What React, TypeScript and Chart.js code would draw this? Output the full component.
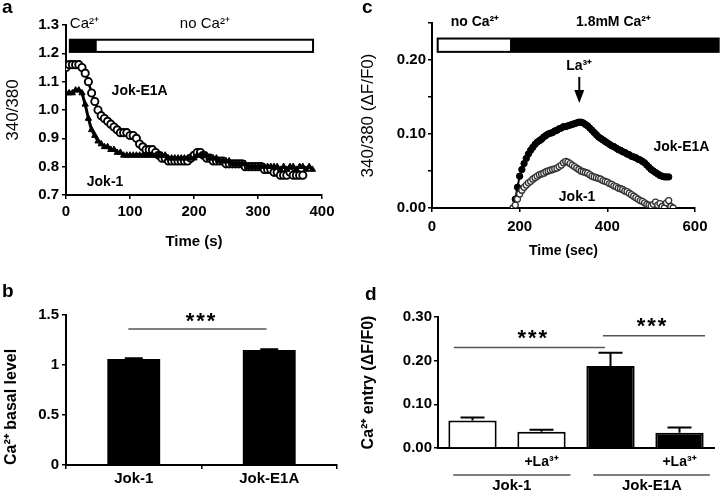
import React, { useEffect, useRef } from "react";
import { Chart, registerables } from "chart.js";

Chart.register(...registerables);

const FAMILY = '"Liberation Sans", Arial, Helvetica, sans-serif';

// ---------------- Panel a: basal Ca2+ traces ----------------
const aTime = [
  0, 5, 10, 15, 20, 25, 30, 35, 40, 45, 50, 55, 60, 65, 70, 75, 80, 85, 90, 95,
  100, 105, 110, 115, 120, 125, 130, 135, 140, 145, 150, 155, 160, 165, 170, 175, 180, 185, 190, 195,
  200, 205, 210, 215, 220, 225, 230, 235, 240, 245, 250, 255, 260, 265, 270, 275, 280, 285, 290, 295,
  300, 305, 310, 315, 320, 325, 330, 335, 340, 345, 350, 355, 360, 365, 370, 375, 380, 385,
];
const aJokE1A = [
  1.15, 1.16, 1.16, 1.16, 1.16, 1.15, 1.13, 1.10, 1.06, 1.03, 1.00, 0.98, 0.97, 0.96, 0.95, 0.94, 0.93, 0.92, 0.92, 0.92,
  0.91, 0.91, 0.90, 0.88, 0.87, 0.86, 0.86, 0.86, 0.85, 0.84, 0.83, 0.83, 0.82, 0.82, 0.82, 0.82, 0.82, 0.82, 0.82, 0.83,
  0.84, 0.85, 0.85, 0.84, 0.83, 0.83, 0.82, 0.82, 0.82, 0.82, 0.81, 0.81, 0.81, 0.81, 0.81, 0.81, 0.80, 0.80, 0.80, 0.80,
  0.80, 0.80, 0.79, 0.79, 0.79, 0.78, 0.78, 0.77, 0.77, 0.77, 0.78, 0.77, 0.77, 0.77, 0.77, null, null, null,
];
const aJok1 = [
  1.06, 1.06, 1.06, 1.07, 1.07, 1.06, 1.02, 0.97, 0.93, 0.91, 0.89, 0.88, 0.87, 0.87, 0.86, 0.86, 0.85, 0.85, 0.84, 0.84,
  0.84, 0.84, 0.84, 0.84, 0.84, 0.84, 0.84, 0.84, 0.84, 0.84, 0.84, 0.84, 0.83, 0.83, 0.83, 0.83, 0.83, 0.83, 0.83, 0.83,
  0.83, 0.84, 0.84, 0.84, 0.84, 0.83, 0.83, 0.83, 0.82, 0.82, 0.82, 0.82, 0.81, 0.81, 0.81, 0.81, 0.81, 0.80, 0.80, 0.80,
  0.80, 0.80, 0.80, 0.80, 0.80, 0.80, 0.80, 0.79, 0.80, 0.79, 0.80, 0.80, 0.79, 0.80, 0.80, 0.79, 0.80, 0.79,
];
const aCaPeriod = [6, 48];
const aNoCaPeriod = [48, 386];

// ---------------- Panel b: basal level bars ----------------
const bCategories = ["Jok-1", "Jok-E1A"];
const bBasal = [1.06, 1.15];
const bSem = [0.008, 0.008];

// ---------------- Panel c: Ca2+ entry traces ----------------
const cTime = [
  185, 190, 195, 200, 205, 210, 215, 220, 225, 230, 235, 240, 245, 250, 255, 260, 265, 270, 275, 280,
  285, 290, 295, 300, 305, 310, 315, 320, 325, 330, 335, 340, 345, 350, 355, 360, 365, 370, 375, 380,
  385, 390, 395, 400, 405, 410, 415, 420, 425, 430, 435, 440, 445, 450, 455, 460, 465, 470, 475, 480,
  485, 490, 495, 500, 505, 510, 515, 520, 525, 530, 535, 540, 545, 550,
];
const cJokE1A = [
  0.000, 0.012, 0.028, 0.043, 0.052, 0.060, 0.067, 0.073, 0.078, 0.082, 0.086, 0.089, 0.091, 0.093, 0.096, 0.098, 0.100, 0.101, 0.102, 0.104,
  0.105, 0.107, 0.108, 0.110, 0.110, 0.111, 0.112, 0.113, 0.114, 0.115, 0.116, 0.116, 0.115, 0.113, 0.111, 0.108, 0.105, 0.102, 0.099, 0.096,
  0.094, 0.092, 0.090, 0.088, 0.086, 0.084, 0.083, 0.081, 0.079, 0.078, 0.076, 0.075, 0.073, 0.072, 0.070, 0.069, 0.068, 0.066, 0.065, 0.063,
  0.061, 0.058, 0.055, 0.052, 0.050, 0.048, 0.046, 0.044, 0.043, 0.042, 0.042, 0.042, null, null,
];
const cJok1 = [
  0.000, 0.004, 0.012, 0.019, 0.024, 0.028, 0.031, 0.034, 0.036, 0.039, 0.041, 0.043, 0.045, 0.046, 0.047, 0.049, 0.050, 0.051, 0.052, 0.053,
  0.054, 0.056, 0.058, 0.061, 0.063, 0.062, 0.060, 0.058, 0.056, 0.054, 0.052, 0.050, 0.049, 0.048, 0.047, 0.045, 0.043, 0.042, 0.041, 0.040,
  0.039, 0.037, 0.036, 0.035, 0.033, 0.032, 0.030, 0.029, 0.027, 0.026, 0.025, 0.023, 0.022, 0.020, 0.018, 0.016, 0.014, 0.012, 0.010, 0.009,
  0.007, 0.005, 0.004, 0.003, 0.005, 0.008, 0.004, 0.006, 0.002, 0.000, 0.007, 0.010, 0.002, 0.000,
];
const cNoCaPeriod = [13, 178];
const cCaPeriod = [178, 654];
const cLaTime = 336;

// ---------------- Panel d: Ca2+ entry bars ----------------
const dCategories = ["", "+La³⁺", "", "+La³⁺"];
const dEntry = [0.063, 0.037, 0.188, 0.035];
const dSem = [0.007, 0.005, 0.030, 0.012];
const dGroups = ["Jok-1", "Jok-E1A"];

// ---------------- helpers ----------------
const font = (size: number, weight: string = "bold") => ({ family: FAMILY, size, weight, lineHeight: 1.2 });

function fixW(w: number) {
  return (s: any) => {
    s.width = w;
    s.paddingTop = 0; s.paddingBottom = 0; s.paddingLeft = 0; s.paddingRight = 0;
  };
}
function fixH(h: number) {
  return (s: any) => {
    s.height = h;
    s.paddingTop = 0; s.paddingBottom = 0; s.paddingLeft = 0; s.paddingRight = 0;
  };
}
function axisLook(tickLen: number, drawTicks = true) {
  return {
    grid: { display: true, drawOnChartArea: false, drawTicks, tickLength: tickLen, color: "#000", lineWidth: 1.5 },
    border: { display: true, color: "#000", width: 2 },
  };
}
function txt(ctx: CanvasRenderingContext2D, s: string, x: number, y: number, size: number, weight = "bold", align: CanvasTextAlign = "center") {
  ctx.save();
  ctx.font = `${weight} ${size}px ${FAMILY}`;
  ctx.fillStyle = "#000";
  ctx.textAlign = align;
  ctx.textBaseline = "middle";
  ctx.fillText(s, x, y);
  ctx.restore();
}
function stars(ctx: CanvasRenderingContext2D, x: number, y: number) {
  ctx.save();
  ctx.font = `bold 22px ${FAMILY}`;
  (ctx as any).letterSpacing = "2px";
  ctx.fillStyle = "#000";
  ctx.textAlign = "center";
  ctx.textBaseline = "alphabetic";
  ctx.fillText("***", x, y + 13);
  ctx.restore();
}
function hline(ctx: CanvasRenderingContext2D, x0: number, x1: number, y: number, w = 1.5, color = "#444") {
  ctx.save();
  ctx.strokeStyle = color;
  ctx.lineWidth = w;
  ctx.beginPath();
  ctx.moveTo(x0, y);
  ctx.lineTo(x1, y);
  ctx.stroke();
  ctx.restore();
}
function errBar(ctx: CanvasRenderingContext2D, x: number, yTop: number, yErr: number, cap: number) {
  ctx.save();
  ctx.strokeStyle = "#000";
  ctx.lineWidth = 2;
  ctx.beginPath();
  ctx.moveTo(x, yTop);
  ctx.lineTo(x, yErr);
  ctx.moveTo(x - cap / 2, yErr);
  ctx.lineTo(x + cap / 2, yErr);
  ctx.stroke();
  ctx.restore();
}

const baseOpts = {
  responsive: false,
  animation: false as const,
  devicePixelRatio: 1,
  plugins: { legend: { display: false }, tooltip: { enabled: false } },
};

// ---------------- chart builders ----------------
function makeA(canvas: HTMLCanvasElement) {
  const anno = {
    id: "annoA",
    afterDraw(chart: any) {
      const { ctx } = chart;
      const x = chart.scales.x, y = chart.scales.y;
      txt(ctx, "a", 2, 8, 19, "bold", "left");
      const top = y.getPixelForValue(1.248), bot = y.getPixelForValue(1.205);
      const xs = x.getPixelForValue(aCaPeriod[0]);
      const xm = x.getPixelForValue(aCaPeriod[1]);
      const xe = x.getPixelForValue(aNoCaPeriod[1]);
      ctx.save();
      ctx.fillStyle = "#000";
      ctx.fillRect(xs, top, xm - xs, bot - top);
      ctx.strokeStyle = "#000";
      ctx.lineWidth = 2;
      ctx.strokeRect(xs, top, xe - xs, bot - top);
      ctx.restore();
      txt(ctx, "Ca²⁺", xs, y.getPixelForValue(1.303), 15, "normal", "left");
      txt(ctx, "no Ca²⁺", x.getPixelForValue(217), y.getPixelForValue(1.303), 15, "normal", "center");
      txt(ctx, "Jok-E1A", x.getPixelForValue(115), y.getPixelForValue(1.067), 14, "bold", "center");
      txt(ctx, "Jok-1", x.getPixelForValue(61), y.getPixelForValue(0.745), 14, "bold", "center");
    },
  };
  return new Chart(canvas, {
    type: "scatter",
    data: {
      datasets: [
        {
          label: "Jok-1",
          data: aTime.map((t, i) => ({ x: t, y: aJok1[i] })),
          showLine: true,
          borderColor: "#000",
          borderWidth: 3,
          pointStyle: "triangle",
          pointRadius: 3.6,
          pointBackgroundColor: "#000",
          pointBorderColor: "#000",
          pointBorderWidth: 1,
        },
        {
          label: "Jok-E1A",
          data: aTime.map((t, i) => ({ x: t, y: aJokE1A[i] })),
          showLine: true,
          borderColor: "#000",
          borderWidth: 2.5,
          pointStyle: "circle",
          pointRadius: 3.6,
          pointBackgroundColor: "#fff",
          pointBorderColor: "#000",
          pointBorderWidth: 1.9,
        },
      ],
    },
    options: {
      ...baseOpts,
      layout: { padding: { top: 25, right: 36, bottom: 0, left: 0 } },
      scales: {
        x: {
          type: "linear",
          min: 0,
          max: 400,
          ticks: { stepSize: 100, font: font(15), color: "#000", padding: 4, maxRotation: 0 },
          ...axisLook(4),
          title: { display: true, text: "Time (s)", font: font(15), color: "#000", padding: { top: 0, bottom: 1 } },
          afterFit: fixH(57),
        },
        y: {
          type: "linear",
          min: 0.7,
          max: 1.3,
          ticks: { stepSize: 0.1, font: font(15), color: "#000", padding: 3, callback: (v: any) => Number(v).toFixed(1) },
          ...axisLook(4),
          title: { display: true, text: "340/380", font: font(17, "normal"), color: "#000", padding: { top: 3, bottom: 0 } },
          afterFit: fixW(66),
        },
      },
    } as any,
    plugins: [anno],
  });
}

function makeB(canvas: HTMLCanvasElement) {
  const anno = {
    id: "annoB",
    afterDraw(chart: any) {
      const { ctx } = chart;
      const x = chart.scales.x, y = chart.scales.y;
      txt(ctx, "b", 2, 30, 19, "bold", "left");
      bBasal.forEach((v, i) => {
        errBar(ctx, x.getPixelForValue(i), y.getPixelForValue(v), y.getPixelForValue(v + bSem[i]), 18);
      });
      hline(ctx, x.getPixelForValue(-0.04), x.getPixelForValue(0.98), y.getPixelForValue(1.36), 1.5, "#555");
      stars(ctx, x.getPixelForValue(0.5), y.getPixelForValue(1.5));
    },
  };
  return new Chart(canvas, {
    type: "bar",
    data: {
      labels: bCategories,
      datasets: [
        {
          data: bBasal,
          backgroundColor: "#000",
          borderColor: "#000",
          borderWidth: 0,
          barPercentage: 0.39,
          categoryPercentage: 1,
        },
      ],
    },
    options: {
      ...baseOpts,
      layout: { padding: { top: 53, right: 21, bottom: 0, left: 0 } },
      scales: {
        x: {
          type: "category",
          ticks: { font: font(15), color: "#000", padding: 1 },
          grid: { display: true, drawOnChartArea: false, drawTicks: true, tickLength: 4, color: "#000", lineWidth: 1.5, offset: true },
          border: { display: true, color: "#000", width: 2 },
          afterFit: fixH(25),
        },
        y: {
          type: "linear",
          min: 0,
          max: 1.5,
          ticks: { stepSize: 0.5, font: font(15), color: "#000", padding: 3, callback: (v: any) => String(Number(v)) },
          ...axisLook(4),
          title: { display: true, text: "Ca²⁺ basal level", align: "start", font: font(16), color: "#000", padding: { top: 2, bottom: 0 } },
          afterFit: fixW(66),
        },
      },
    } as any,
    plugins: [anno],
  });
}

function makeC(canvas: HTMLCanvasElement) {
  const anno = {
    id: "annoC",
    afterDraw(chart: any) {
      const { ctx } = chart;
      const x = chart.scales.x, y = chart.scales.y;
      txt(ctx, "c", 4, 8, 19, "bold", "left");
      const top = y.getPixelForValue(0.229), bot = y.getPixelForValue(0.211);
      const xs = x.getPixelForValue(cNoCaPeriod[0]);
      const xm = x.getPixelForValue(cCaPeriod[0]);
      const xe = x.getPixelForValue(cCaPeriod[1]);
      ctx.save();
      ctx.fillStyle = "#000";
      ctx.fillRect(xm, top, xe - xm, bot - top);
      ctx.strokeStyle = "#000";
      ctx.lineWidth = 2;
      ctx.strokeRect(xs, top, xe - xs, bot - top);
      ctx.restore();
      const yl = y.getPixelForValue(0.251);
      txt(ctx, "no Ca²⁺", x.getPixelForValue(98), yl, 14, "bold", "center");
      txt(ctx, "1.8mM Ca²⁺", x.getPixelForValue(414), yl, 14, "bold", "center");
      const px = x.getPixelForValue(cLaTime);
      const ty = y.getPixelForValue(0.192);
      txt(ctx, "La³⁺", px, ty, 14, "bold", "center");
      ctx.save();
      ctx.strokeStyle = "#000";
      ctx.fillStyle = "#000";
      ctx.lineWidth = 2;
      ctx.beginPath();
      ctx.moveTo(px, ty + 11);
      ctx.lineTo(px, ty + 28);
      ctx.stroke();
      ctx.beginPath();
      ctx.moveTo(px - 5, ty + 24);
      ctx.lineTo(px + 5, ty + 24);
      ctx.lineTo(px, ty + 37);
      ctx.closePath();
      ctx.fill();
      ctx.restore();
      txt(ctx, "Jok-E1A", x.getPixelForValue(569), y.getPixelForValue(0.082), 14, "bold", "center");
      txt(ctx, "Jok-1", x.getPixelForValue(331), y.getPixelForValue(0.015), 14, "bold", "center");
    },
  };
  return new Chart(canvas, {
    type: "scatter",
    data: {
      datasets: [
        {
          label: "Jok-1",
          data: cTime.map((t, i) => ({ x: t, y: cJok1[i] })),
          showLine: true,
          borderColor: "#555",
          borderWidth: 1,
          pointStyle: "circle",
          pointRadius: 3,
          pointBackgroundColor: "#fff",
          pointBorderColor: "#333",
          pointBorderWidth: 1.3,
        },
        {
          label: "Jok-E1A",
          data: cTime.map((t, i) => ({ x: t, y: cJokE1A[i] })),
          showLine: true,
          borderColor: "#000",
          borderWidth: 2,
          pointStyle: "circle",
          pointRadius: 3.2,
          pointBackgroundColor: "#000",
          pointBorderColor: "#000",
          pointBorderWidth: 1,
        },
      ],
    },
    options: {
      ...baseOpts,
      layout: { padding: { top: 23, right: 28, bottom: 0, left: 0 } },
      scales: {
        x: {
          type: "linear",
          min: 0,
          max: 600,
          ticks: { stepSize: 200, font: font(15), color: "#000", padding: 6, maxRotation: 0 },
          ...axisLook(4),
          title: { display: true, text: "Time (sec)", font: font(14), color: "#000", padding: { top: 0, bottom: 2 } },
          afterFit: fixH(54),
        },
        y: {
          type: "linear",
          min: 0,
          max: 0.25,
          ticks: {
            stepSize: 0.05,
            font: font(15),
            color: "#000",
            padding: 2,
            callback: (v: any) => (Math.round(Number(v) * 100) % 10 === 0 ? Number(v).toFixed(2) : ""),
          },
          ...axisLook(4),
          title: { display: true, text: "340/380 (ΔF/F0)", font: font(17, "normal"), color: "#000", padding: { top: 0, bottom: 0 } },
          afterFit: fixW(74),
        },
      },
    } as any,
    plugins: [anno],
  });
}

function makeD(canvas: HTMLCanvasElement) {
  const anno = {
    id: "annoD",
    afterDraw(chart: any) {
      const { ctx } = chart;
      const x = chart.scales.x, y = chart.scales.y;
      txt(ctx, "d", 7, 33, 19, "bold", "left");
      dEntry.forEach((v, i) => {
        errBar(ctx, x.getPixelForValue(i), y.getPixelForValue(v), y.getPixelForValue(v + dSem[i]), 24);
      });
      hline(ctx, x.getPixelForValue(-0.27), x.getPixelForValue(1.92), y.getPixelForValue(0.23), 1.5, "#555");
      stars(ctx, x.getPixelForValue(0.88), y.getPixelForValue(0.265));
      hline(ctx, x.getPixelForValue(1.89), x.getPixelForValue(3.37), y.getPixelForValue(0.257), 1.5, "#555");
      stars(ctx, x.getPixelForValue(2.61), y.getPixelForValue(0.293));
      const base = y.getPixelForValue(0);
      hline(ctx, x.getPixelForValue(-0.28), x.getPixelForValue(1.42), base + 27, 1.5, "#555");
      hline(ctx, x.getPixelForValue(1.75), x.getPixelForValue(3.44), base + 27, 1.5, "#555");
      txt(ctx, dGroups[0], x.getPixelForValue(0.57), base + 38, 15, "bold", "center");
      txt(ctx, dGroups[1], x.getPixelForValue(2.6), base + 38, 15, "bold", "center");
    },
  };
  return new Chart(canvas, {
    type: "bar",
    data: {
      labels: dCategories,
      datasets: [
        {
          data: dEntry,
          backgroundColor: ["#fff", "#fff", "#000", "#000"],
          borderColor: "#000",
          borderWidth: 2,
          barPercentage: 0.7,
          categoryPercentage: 1,
        },
      ],
    },
    options: {
      ...baseOpts,
      layout: { padding: { top: 55, right: 9, bottom: 0, left: 0 } },
      scales: {
        x: {
          type: "category",
          ticks: { font: font(14), color: "#000", padding: 6 },
          grid: { display: true, drawOnChartArea: false, drawTicks: false, color: "#000" },
          border: { display: true, color: "#000", width: 2 },
          afterFit: fixH(42),
        },
        y: {
          type: "linear",
          min: 0,
          max: 0.3,
          ticks: { stepSize: 0.1, font: font(15), color: "#000", padding: 2, callback: (v: any) => Number(v).toFixed(2) },
          ...axisLook(4),
          title: { display: true, text: "Ca²⁺ entry (ΔF/F0)", font: font(16), color: "#000", padding: { top: 1, bottom: 0 } },
          afterFit: fixW(80),
        },
      },
    } as any,
    plugins: [anno],
  });
}

export default function App() {
  const aRef = useRef<HTMLCanvasElement>(null);
  const bRef = useRef<HTMLCanvasElement>(null);
  const cRef = useRef<HTMLCanvasElement>(null);
  const dRef = useRef<HTMLCanvasElement>(null);

  useEffect(() => {
    const charts = [
      makeA(aRef.current!),
      makeB(bRef.current!),
      makeC(cRef.current!),
      makeD(dRef.current!),
    ];
    return () => charts.forEach((c) => c.destroy());
  }, []);

  const abs = (left: number, top: number, w: number, h: number) => ({
    position: "absolute" as const,
    left,
    top,
    width: w,
    height: h,
    display: "block",
  });

  return (
    <div style={{ position: "absolute", left: 0, top: 0, width: 723, height: 490, background: "#fff", overflow: "hidden" }}>
      <canvas ref={aRef} width={358} height={252} style={abs(0, 0, 358, 252)} />
      <canvas ref={cRef} width={365} height={262} style={abs(358, 0, 365, 262)} />
      <canvas ref={bRef} width={358} height={228} style={abs(0, 262, 358, 228)} />
      <canvas ref={dRef} width={365} height={228} style={abs(358, 262, 365, 228)} />
    </div>
  );
}
